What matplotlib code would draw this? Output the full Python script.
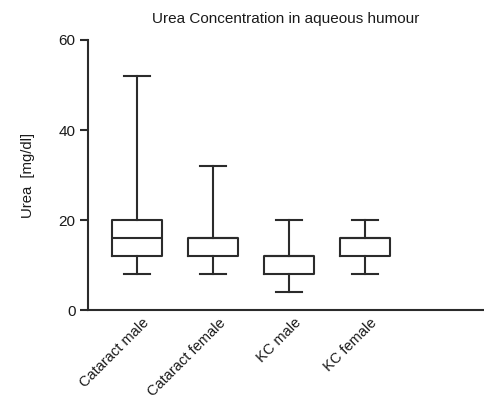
import matplotlib.pyplot as plt
from matplotlib.transforms import ScaledTranslation

plt.rcParams['font.family'] = ['Liberation Sans', 'DejaVu Sans']

groups = ["Cataract male", "Cataract female", "KC male", "KC female"]
w_low = [8, 8, 4, 8]
q1 = [12, 12, 8, 12]
med = [16, 16, 12, 16]
q3 = [20, 16, 12, 16]
w_high = [52, 32, 20, 20]

stats = [dict(label=g, whislo=a, q1=b, med=c, q3=d, whishi=e, fliers=[])
         for g, a, b, c, d, e in zip(groups, w_low, q1, med, q3, w_high)]

ink = '#2b2b2b'
fig = plt.figure(figsize=(4.84, 3.98), dpi=100)
ax = fig.add_axes([0.1818, 0.2211, 0.8182, 0.6784])

lw = 1.5
ax.bxp(stats, positions=range(1, 5), widths=0.645, capwidths=0.33,
       showfliers=False,
       boxprops=dict(color=ink, linewidth=lw),
       whiskerprops=dict(color=ink, linewidth=lw),
       capprops=dict(color=ink, linewidth=lw),
       medianprops=dict(color=ink, linewidth=lw))

ax.set_xlim(0.355, 5.566)
ax.set_ylim(0, 60)
ax.set_yticks([0, 20, 40, 60])
ax.set_xticks(range(1, 5))
ax.tick_params(axis='x', length=0, pad=4)
ax.tick_params(axis='y', length=6, width=1.5, color=ink, labelsize=11,
               labelcolor='#1a1a1a', pad=3)
ax.set_xticklabels(groups, rotation=45, ha='right', rotation_mode='anchor',
                   fontsize=10.5, color='#1a1a1a')
# nudge the rotated labels a little to the right, as in the original
shift = ScaledTranslation(5 / 100, 0, fig.dpi_scale_trans)
for lab in ax.get_xticklabels():
    lab.set_transform(lab.get_transform() + shift)

for s in ['top', 'right']:
    ax.spines[s].set_visible(False)
for s in ['left', 'bottom']:
    ax.spines[s].set_linewidth(1.5)
    ax.spines[s].set_color(ink)

ax.set_ylabel("Urea  [mg/dl]", fontsize=10.7, color='#1a1a1a', labelpad=17)
ax.set_title("Urea Concentration in aqueous humour", fontsize=11,
             color='#1a1a1a', pad=12)

fig.savefig('out.png', dpi=100)
